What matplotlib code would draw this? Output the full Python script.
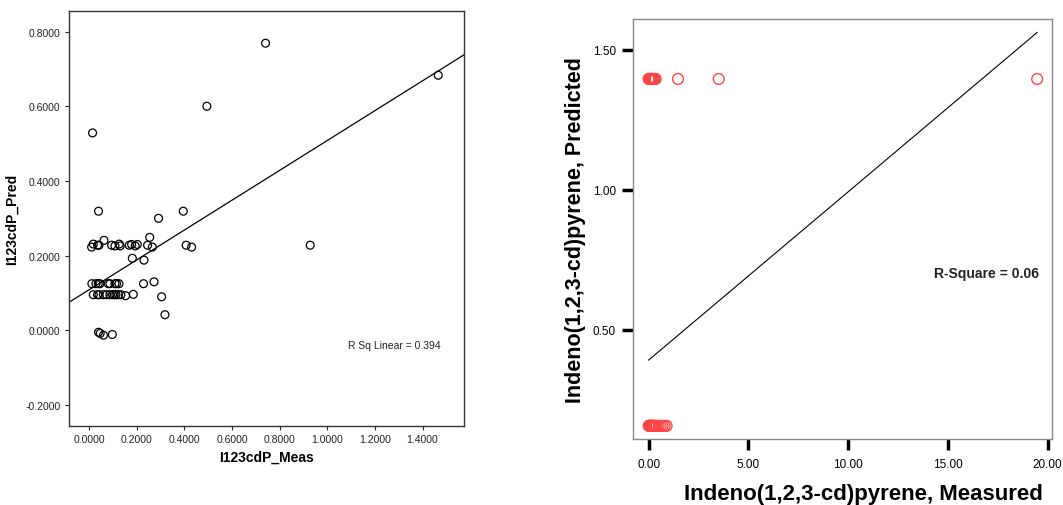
import matplotlib
matplotlib.use("Agg")
import matplotlib.pyplot as plt
import numpy as np

plt.rcParams['font.family'] = ['Liberation Sans', 'DejaVu Sans']

# ---- Left panel: I123cdP measured vs predicted ----
meas = [0.7406, 1.4658, 0.494, 0.014, 0.039, 0.395, 0.291, 0.062, 0.254, 0.928,
        0.010, 0.017, 0.035, 0.041, 0.094, 0.108, 0.126, 0.130, 0.168, 0.178,
        0.193, 0.202, 0.245, 0.265, 0.407, 0.430,
        0.181, 0.230,
        0.011, 0.028, 0.038, 0.045, 0.080, 0.087, 0.108, 0.115, 0.125, 0.228, 0.272,
        0.017, 0.035, 0.041, 0.059, 0.073, 0.087, 0.098, 0.105, 0.112, 0.123, 0.133,
        0.153, 0.185,
        0.304, 0.318,
        0.039, 0.046, 0.060, 0.097]
pred = [0.7688, 0.683, 0.600, 0.5286, 0.319, 0.319, 0.300, 0.241, 0.249, 0.228,
        0.223, 0.231, 0.228, 0.228, 0.228, 0.226, 0.231, 0.226, 0.228, 0.230,
        0.226, 0.230, 0.228, 0.223, 0.228, 0.223,
        0.193, 0.188,
        0.125, 0.125, 0.125, 0.125, 0.125, 0.125, 0.125, 0.125, 0.125, 0.125, 0.130,
        0.0955, 0.0955, 0.0955, 0.0955, 0.0955, 0.0955, 0.0955, 0.0955, 0.0955, 0.0955, 0.0955,
        0.0928, 0.0965,
        0.090, 0.042,
        -0.005, -0.008, -0.013, -0.011]
fit_left = (0.3994, 0.109)   # slope, intercept
r2_left = 0.394
left_xticks = [0.0, 0.2, 0.4, 0.6, 0.8, 1.0, 1.2, 1.4]
left_yticks = [-0.2, 0.0, 0.2, 0.4, 0.6, 0.8]

# ---- Right panel: Indeno(1,2,3-cd)pyrene measured vs predicted ----
meas_r = [0.0, 0.02, 0.05, 0.08, 0.1, 0.12, 0.15, 0.2, 0.25, 0.3, 0.35, 1.47, 3.51, 19.47,
          0.0, 0.03, 0.05, 0.08, 0.1, 0.12, 0.15, 0.18, 0.2, 0.25, 0.3, 0.35, 0.4,
          0.5, 0.6, 0.7, 0.8, 0.9]
pred_r = [1.396] * 14 + [0.157] * 18
fit_right = (0.0601, 0.392)
fit_right_range = (0.0, 19.47)
r2_right = 0.06
right_xticks = [0.0, 5.0, 10.0, 15.0, 20.0]
right_yticks = [0.5, 1.0, 1.5]

fig = plt.figure(figsize=(10.63, 5.06), dpi=100)

# Left axes
ax1 = fig.add_axes([0.0649, 0.1561, 0.3716, 0.8202])
ax1.scatter(meas, pred, s=32, facecolors='none', edgecolors='black', linewidths=0.9, zorder=3)
xl = np.array([-0.085, 1.574])
ax1.plot(xl, fit_left[0] * xl + fit_left[1], color='black', lw=0.9)
ax1.set_xlim(-0.085, 1.574)
ax1.set_ylim(-0.256, 0.855)
ax1.set_xticks(left_xticks)
ax1.set_xticklabels([f"{v:.4f}" for v in left_xticks])
ax1.set_yticks(left_yticks)
ax1.set_yticklabels([f"{v:.4f}" for v in left_yticks])
ax1.tick_params(labelsize=7.5, length=3, width=0.8, colors='#222222', pad=3)
for s in ax1.spines.values():
    s.set_color('#333333')
    s.set_linewidth(1.0)
ax1.set_xlabel('I123cdP_Meas', fontsize=10, fontweight='bold', labelpad=4)
ax1.set_ylabel('I123cdP_Pred', fontsize=10, fontweight='bold', labelpad=5)
ax1.text(0.94, 0.195, f"R Sq Linear = {r2_left}", transform=ax1.transAxes,
         ha='right', va='center', fontsize=7.5, color='#222222')

# Right axes
ax2 = fig.add_axes([0.5952, 0.1304, 0.3942, 0.8300])
ax2.scatter(meas_r, pred_r, s=60, facecolors='none', edgecolors='#ff4444', linewidths=1.0, zorder=3)
xr = np.array(fit_right_range)
ax2.plot(xr, fit_right[0] * xr + fit_right[1], color='black', lw=0.8)
ax2.set_xlim(-0.80, 20.2)
ax2.set_ylim(0.11, 1.61)
ax2.set_xticks(right_xticks)
ax2.set_xticklabels([f"{v:.2f}" for v in right_xticks])
ax2.set_yticks(right_yticks)
ax2.set_yticklabels([f"{v:.2f}" for v in right_yticks])
ax2.tick_params(labelsize=8.5, length=8, width=2.5, colors='black', pad=4)
ax2.tick_params(axis='x', pad=6)
for s in ax2.spines.values():
    s.set_color('#888888')
    s.set_linewidth(1.0)
ax2.set_xlabel('Indeno(1,2,3-cd)pyrene, Measured', fontsize=16, fontweight='bold',
               labelpad=9, x=0.55)
ax2.set_ylabel('Indeno(1,2,3-cd)pyrene, Predicted', fontsize=15.5, fontweight='bold',
               labelpad=5)
ax2.text(0.97, 0.396, f"R-Square = {r2_right:.2f}", transform=ax2.transAxes,
         ha='right', va='center', fontsize=10, fontweight='bold', color='#222222')

fig.savefig('out.png', dpi=100)
